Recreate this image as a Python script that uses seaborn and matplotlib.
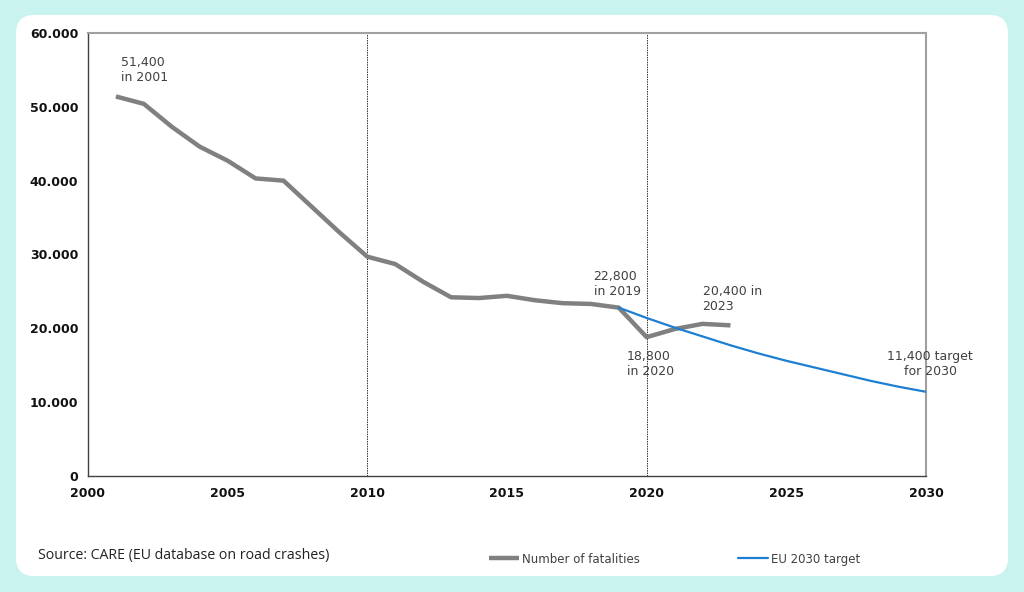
import matplotlib
matplotlib.use("Agg")
import matplotlib.pyplot as plt
from matplotlib.patches import FancyBboxPatch
from matplotlib.transforms import IdentityTransform
from matplotlib.ticker import FuncFormatter
import seaborn as sns
import pandas as pd

years = list(range(2001, 2024))
fatalities = [51400, 50400, 47300, 44600, 42700, 40300, 40000, 36500, 33000, 29700,
              28700, 26300, 24200, 24100, 24400, 23800, 23400, 23300, 22800, 18800,
              19900, 20600, 20400]
target_years = list(range(2019, 2031))
target = [22800, 21400, 20100, 18900, 17700, 16600, 15600, 14700, 13800, 12900, 12100, 11400]

df = pd.DataFrame({"year": years, "value": fatalities})
dt = pd.DataFrame({"year": target_years, "value": target})

sns.set_style("white")
plt.rcParams["font.family"] = ["DejaVu Sans"]

fig = plt.figure(figsize=(10.24, 5.92), dpi=100)
fig.patch.set_facecolor("#c9f3ef")
# white rounded card behind the chart
card = FancyBboxPatch((16, 16), 992, 561, boxstyle="round,pad=0,rounding_size=18",
                      transform=IdentityTransform(), facecolor="white", edgecolor="none", zorder=-5)
fig.patches.append(card)

ax = fig.add_axes([0.0859, 0.196, 0.8184, 0.7483])
ax.set_facecolor("none")
ax.set_zorder(2)

sns.lineplot(data=df, x="year", y="value", ax=ax, color="#808080", linewidth=3.2,
             label="Number of fatalities", solid_capstyle="butt", solid_joinstyle="round", zorder=3)
sns.lineplot(data=dt, x="year", y="value", ax=ax, color="#1e7fd2", linewidth=1.6,
             label="EU 2030 target", zorder=4)

for yr in (2010, 2020):
    ax.axvline(yr, color="#333333", linewidth=0.7, linestyle=(0, (1.5, 1)), zorder=1)

ax.set_xlim(2000, 2030)
ax.set_ylim(0, 60000)
ax.set_xticks(range(2000, 2031, 5))
ax.set_yticks(range(0, 60001, 10000))
ax.yaxis.set_major_formatter(FuncFormatter(lambda v, p: "0" if v == 0 else f"{int(v):,}".replace(",", ".")))
ax.set_xlabel("")
ax.set_ylabel("")
ax.tick_params(axis="both", direction="out", length=4, width=0.8, color="#404040",
               labelsize=9, pad=3)
for lab in ax.get_xticklabels() + ax.get_yticklabels():
    lab.set_fontweight("bold")
    lab.set_color("#111111")
ax.tick_params(axis="x", pad=4)

for side in ("left", "bottom"):
    ax.spines[side].set_color("#404040")
    ax.spines[side].set_linewidth(1.0)
for side in ("top", "right"):
    ax.spines[side].set_visible(True)
    ax.spines[side].set_color("#a0a0a0")
    ax.spines[side].set_linewidth(1.5)

tc = "#404040"
fs = 9
ax.text(2001.2, 53100, "51,400\nin 2001", color=tc, fontsize=fs, ha="left", va="bottom", linespacing=1.2)
ax.text(2018.1, 24100, "22,800\nin 2019", color=tc, fontsize=fs, ha="left", va="bottom", linespacing=1.2)
ax.text(2022.0, 22100, "20,400 in\n2023", color=tc, fontsize=fs, ha="left", va="bottom", linespacing=1.2)
ax.text(2019.3, 17100, "18,800\nin 2020", color=tc, fontsize=fs, ha="left", va="top", linespacing=1.2)
ax.text(2030.15, 17000, "11,400 target\nfor 2030", color=tc, fontsize=fs, ha="center", va="top",
        multialignment="center", linespacing=1.2)

ax.legend(loc="center", bbox_to_anchor=(0.659, 0.0557), bbox_transform=fig.transFigure,
          ncol=2, frameon=False, fontsize=8.5, handlelength=2.5, handletextpad=0.3,
          columnspacing=8.3, labelcolor="#404040")

fig.text(38 / 1024, 1 - 556 / 592, "Source: CARE (EU database on road crashes)",
         fontsize=10.2, family="Open Sans", color="#222222", ha="left", va="center")

fig.savefig("out.png", dpi=100, facecolor=fig.get_facecolor())
